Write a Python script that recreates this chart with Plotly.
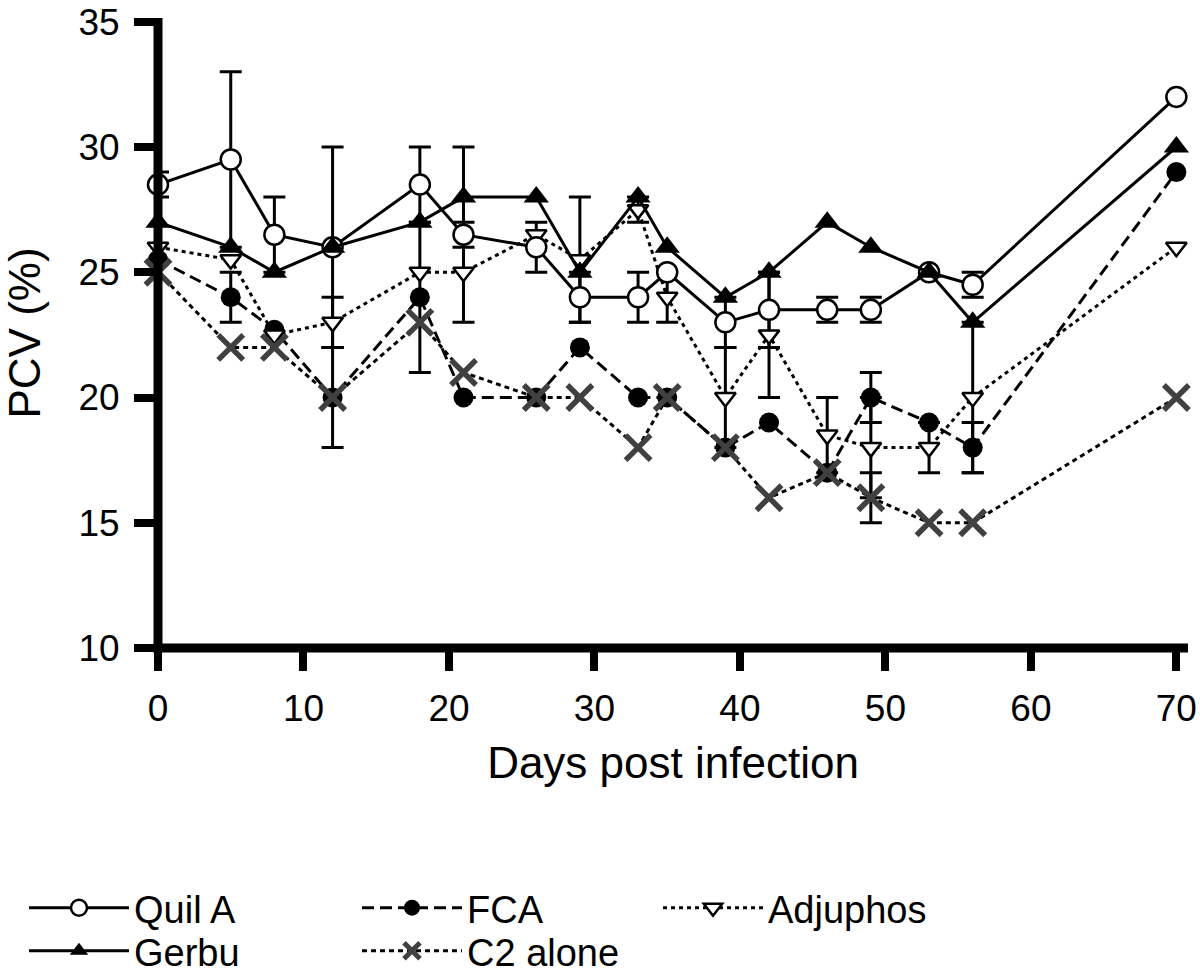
import plotly.graph_objects as go

# ---- data ----
days = [0, 5, 8, 12, 18, 21, 26, 29, 33, 35, 39, 42, 46, 49, 53, 56, 70]

quil_a = [28.5, 29.5, 26.5, 26, 28.5, 26.5, 26, 24, 24, 25, 23, 23.5, 23.5, 23.5, 25, 24.5, 32]
quil_a_err = [0.5, 3.5, 1.5, 4, 1.5, 0, 1, 1, 1, 0, 1, 1.5, 0.5, 0.5, 0, 0.5, 0]

gerbu = [27, 26, 25, 26, 27, 28, 28, 25, 28, 26, 24, 25, 27, 26, 25, 23, 30]
gerbu_err = [0, 0, 0, 0, 0, 2, 0, 0, 0, 0, 0, 0, 0, 0, 0, 0, 0]

fca = [25.5, 24, 22.7, 20, 24, 20, 20, 22, 20, 20, 18, 19, 17, 20, 19, 18, 29]
fca_err = [0, 1, 0, 0, 3, 0, 0, 0, 0, 0, 0, 0, 0, 1, 0, 1, 0]

adjuphos = [26, 25.5, 22.5, 23, 25, 25, 26.5, 25.5, 27.5, 24, 20, 22.5, 18.5, 18, 18, 20, 26]
adjuphos_err = [0, 0, 0, 1, 0, 2, 0, 2.5, 0.5, 1, 2, 2.5, 1.5, 2, 1, 3, 0]

c2_alone = [25, 22, 22, 20, 23, 21, 20, 20, 18, 20, 18, 16, 17, 16, 15, 15, 20]
c2_alone_err = [0, 0, 0, 2, 0, 0, 0, 0, 0, 0, 0, 0, 0, 1, 0, 0, 0]

x_ticks = [0, 10, 20, 30, 40, 50, 60, 70]
y_ticks = [10, 15, 20, 25, 30, 35]

series = [
    # name, values, errors, line dash, marker symbol, marker size, fill, edge, edge width, legend id
    ("FCA", fca, fca_err, "12px,6px", "circle", 20, "black", "black", 0, "legend2"),
    ("Adjuphos", adjuphos, adjuphos_err, "4px,4px", "triangle-down", 18, "white", "black", 2.5, "legend3"),
    ("Quil A", quil_a, quil_a_err, "solid", "circle", 20, "white", "black", 2.5, "legend"),
    ("Gerbu", gerbu, gerbu_err, "solid", "triangle-up", 22, "black", "black", 0, "legend4"),
    ("C2 alone", c2_alone, c2_alone_err, "5px,4px", "x-thin-open", 25, "#404040", "#404040", 5.5, "legend5"),
]

fig = go.Figure()

# error bars first, so markers sit on top of them
for name, vals, errs, dash, sym, size, fill, edge, ew, lg in series:
    ex = [d for d, e in zip(days, errs) if e > 0]
    ey = [v for v, e in zip(vals, errs) if e > 0]
    ee = [e for e in errs if e > 0]
    fig.add_trace(go.Scatter(
        x=ex, y=ey, mode="markers",
        marker=dict(size=1, color="rgba(0,0,0,0)"),
        error_y=dict(type="data", array=ee, visible=True, color="black", thickness=3, width=11),
        showlegend=False, hoverinfo="skip", cliponaxis=False,
    ))

for name, vals, errs, dash, sym, size, fill, edge, ew, lg in series:
    fig.add_trace(go.Scatter(
        x=days, y=vals, name=name, mode="lines+markers",
        line=dict(color="black", width=3, dash=dash),
        marker=dict(symbol=sym, size=size, color=fill, line=dict(color=edge, width=ew)),
        cliponaxis=False, legend=lg,
    ))

PLOT_L, PLOT_R, PLOT_T, PLOT_B = 158, 12, 18, 328
W, H = 1200, 976
pw = W - PLOT_L - PLOT_R
ph = H - PLOT_T - PLOT_B


def px_x(px):
    return (px - PLOT_L) / pw


def px_y(py):
    return (H - PLOT_B - py) / ph


legend_font = dict(family="Liberation Sans, Arial, sans-serif", size=38, color="black")


def leg(xpx, ypx):
    return dict(x=px_x(xpx), y=px_y(ypx), xanchor="left", yanchor="middle",
                font=legend_font, itemwidth=100, bgcolor="rgba(0,0,0,0)",
                borderwidth=0, orientation="v")


fig.update_layout(
    width=W, height=H,
    margin=dict(l=PLOT_L, r=PLOT_R, t=PLOT_T, b=PLOT_B, pad=0, autoexpand=False),
    plot_bgcolor="white", paper_bgcolor="white",
    font=dict(family="Liberation Sans, Arial, sans-serif", color="black"),
    showlegend=True,
    legend=leg(24, 908),
    legend2=leg(357, 908),
    legend3=leg(658, 908),
    legend4=leg(24, 951),
    legend5=leg(357, 951),
    xaxis=dict(
        range=[0, 70.8], tickmode="array", tickvals=x_ticks,
        ticks="outside", ticklen=22, tickwidth=8, tickcolor="black",
        ticklabelstandoff=6,
        showline=False, showgrid=False, zeroline=False,
        tickfont=dict(size=37, color="black"),
        title=dict(text="Days post infection", font=dict(size=44, color="black"), standoff=18),
    ),
    yaxis=dict(
        range=[10, 35.15], tickmode="array", tickvals=y_ticks,
        ticks="outside", ticklen=23, tickwidth=8, tickcolor="black",
        ticklabelstandoff=7,
        showline=False, showgrid=False, zeroline=False,
        tickfont=dict(size=37, color="black"),
        title=dict(text="PCV (%)", font=dict(size=44, color="black"), standoff=26),
    ),
    shapes=[
        dict(type="line", xref="paper", yref="paper", x0=-0.0045, x1=1, y0=0, y1=0,
             line=dict(color="black", width=9), layer="above"),
        dict(type="line", xref="paper", yref="paper", x0=0, x1=0, y0=-0.007, y1=1,
             line=dict(color="black", width=9), layer="above"),
    ],
)

fig.write_html(
    "out.html",
    config={"displayModeBar": False},
    post_script="document.body.style.margin='0';document.body.style.overflow='hidden';",
)
